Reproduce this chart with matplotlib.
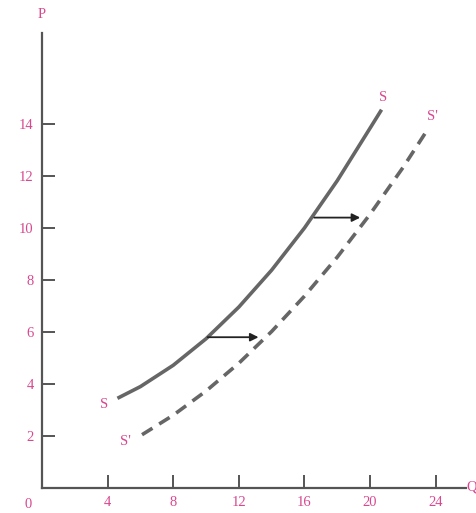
import matplotlib.pyplot as plt
import numpy as np

# supply curve S
s_q = [4.6, 6, 8, 10, 12, 14, 16, 18, 20, 20.7]
s_p = [3.45, 3.9, 4.72, 5.74, 6.96, 8.38, 10.0, 11.82, 13.84, 14.55]

# shifted supply curve S'
s2_q = [6.1, 8, 10, 12, 14, 16, 18, 20, 22, 23.5]
s2_p = [2.05, 2.8, 3.73, 4.8, 6.02, 7.38, 8.88, 10.53, 12.32, 13.78]

# shift arrows: (q_start, q_end, p)
arrows = [(10.1, 13.2, 5.8), (16.6, 19.4, 10.4)]

x_ticks = [4, 8, 12, 16, 20, 24]
y_ticks = [2, 4, 6, 8, 10, 12, 14]

pink = '#d9488f'
grey = '#666666'
serif = 'Liberation Serif'

fig = plt.figure(figsize=(4.77, 5.13), dpi=100)
ax = fig.add_axes([0.088, 0.0487, 0.889, 0.887])

ax.plot(s_q, s_p, color=grey, lw=2.6, solid_capstyle='butt',
        solid_joinstyle='round')
ax.plot(s2_q, s2_p, color=grey, lw=2.6, dashes=(3.4, 2.2),
        dash_joinstyle='round')

for q0, q1, p in arrows:
    ax.annotate('', xy=(q1, p), xytext=(q0, p),
                arrowprops=dict(arrowstyle='-|>', color='#222222', lw=1.3,
                                mutation_scale=12, shrinkA=0, shrinkB=0))

ax.set_xlim(0, 25.85)
ax.set_ylim(0, 17.5)
for side in ['top', 'right']:
    ax.spines[side].set_visible(False)
for side in ['left', 'bottom']:
    ax.spines[side].set_color('#555555')
    ax.spines[side].set_linewidth(1.6)

ax.set_xticks(x_ticks)
ax.set_yticks(y_ticks)
ax.tick_params(direction='in', length=9.5, width=1.4, color='#555555',
               labelcolor=pink, labelsize=10.5, pad=6)
for lab in ax.get_xticklabels() + ax.get_yticklabels():
    lab.set_family(serif)

txt = dict(color=pink, family=serif, fontsize=10.5)
ax.text(-0.85, -0.65, '0', ha='center', va='center', clip_on=False, **txt)
ax.text(0, 18.2, 'P', ha='center', va='center', clip_on=False, **txt)
ax.text(26.2, 0.05, 'Q', ha='center', va='center', clip_on=False, **txt)
ax.text(3.8, 3.2, 'S', ha='center', va='center', **txt)
ax.text(5.1, 1.8, "S'", ha='center', va='center', **txt)
ax.text(20.8, 15.0, 'S', ha='center', va='center', **txt)
ax.text(23.8, 14.3, "S'", ha='center', va='center', **txt)

fig.savefig('out.png', dpi=100)
